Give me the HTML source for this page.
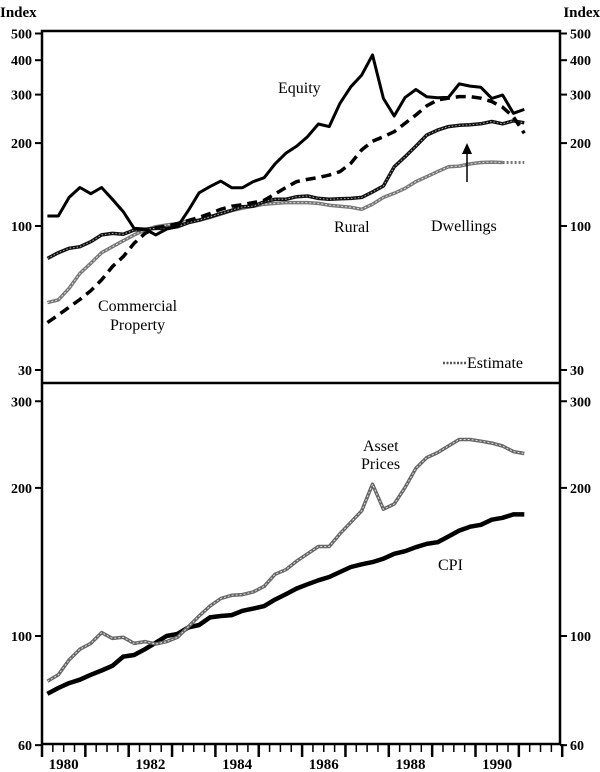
<!DOCTYPE html>
<html><head><meta charset="utf-8"><style>
html,body{margin:0;padding:0;background:#fff;}
svg{display:block;font-family:"Liberation Serif",serif;}
</style></head><body>
<svg id="c" width="600" height="772" viewBox="0 0 600 772">
<g id="axes"></g>
<g id="series"></g>
<g id="labels"></g>
</svg>
<script>
// ---- data (quarterly, 1980Q1 .. 1991Q1) ----
const quarterStart = 1980;
const equity = [108.7,108.7,127,138,131,138,125,112.7,98,97.5,92.8,97.5,99.4,113.7,132,139,145.6,137.8,137.8,144.9,149.8,168,183.6,195,211,234.6,229.5,279,320.6,353,418,290.7,250.8,293,313,294.9,292.4,293,328,322,318.8,290.7,299,256.5,265];
const commercial = [44.6,47.5,50.7,54.1,58.2,63.7,71.2,77.4,86.5,94,98.6,100,102,104.6,107.5,111,115,118,119.5,121.6,124,130.7,138,145,147.7,150,153,157.6,169,189,203,211,220,236,253,273,287,291,295,295,291,283,270,249,217];
const dwellings = [76.3,80,83,84.1,87.7,92.8,94,93.3,96.7,97.3,98,98,99.4,102.8,105,108,111,114,117.5,118,122.5,125,125,127.8,128.5,126,125,125.6,126,127,133,139.7,164,178.5,195,213.8,223,229.5,232,233,235,239.5,235,241,237];
const rural = [52.7,53.9,59.4,67.3,73.2,80,84.1,88.4,92.8,96.7,99.4,100.8,102,104.6,105,107.5,110.5,113.7,116,118,120,120.8,121.6,121.6,121.6,120.8,119,118,116.9,115,120,127,131.4,137,144.9,151,157.6,164,165,168,170,170.6,170];
const ruralEstimate = [170,170,170];
const assetPrices = [80.9,83.4,89.4,94,96.6,101.6,98.9,99.4,96.6,97.4,96.3,97.4,99.4,104.4,109.8,115,119.2,121,121.4,122.9,126.2,133.5,136.4,142,146.9,152,152,161.4,170.3,179.7,203.5,181,185.5,200.5,219.2,230.5,235.9,243.3,250.8,250.8,248.8,246.7,243.3,237,234.9];
const cpi = [76.3,78.4,80.2,81.5,83.4,85.1,87,90.8,91.5,94,96.9,100,101,104.1,105.3,109.1,109.8,110.3,112.5,113.7,115,118.6,121.6,124.9,127.4,129.8,131.8,134.9,138.1,139.9,141.3,143.6,146.9,148.7,151.5,153.9,155.1,159.3,163.8,166.8,168.3,172.3,173.9,176.7,176.7];
const topTicks = [500,400,300,200,100,30];
const bottomTicks = [300,200,100,60];
const yearLabels = [1980,1982,1984,1986,1988,1990];

// ---- scales ----
const X0 = 42, PER_YEAR = 43.35, X1 = 560;
function xq(i){ return X0 + (i + 0.5) * PER_YEAR / 4; }
function xYear(y){ return X0 + (y - quarterStart) * PER_YEAR; }
function yTop(v){ return 226 - Math.log10(v/100) * 275.4; }
function yBot(v){ return 636 - Math.log10(v/100) * 492; }

const NS = "http://www.w3.org/2000/svg";
function mk(tag, attrs, parent){
  const e = document.createElementNS(NS, tag);
  for (const k in attrs) e.setAttribute(k, attrs[k]);
  parent.appendChild(e);
  return e;
}
const axes = document.getElementById('axes');
const ser = document.getElementById('series');
const lab = document.getElementById('labels');

let f = mk('path', {d:`M${X0},31 H${X1} V744 H${X0} Z`, fill:'none', stroke:'#000', 'stroke-width':2.5}, axes);


let dv = mk('line', {x1:X0, x2:X1, y1:383, y2:383, stroke:'#000', 'stroke-width':2.5}, axes);



function yTicks(ticks, yf, panel){
  ticks.forEach(v => {
    const y = yf(v);
    let t = mk('line', {x1:X0-7, x2:X0, y1:y, y2:y, stroke:'#000', 'stroke-width':2}, axes);
    
    
    let t2 = mk('line', {x1:X1, x2:X1+7, y1:y, y2:y, stroke:'#000', 'stroke-width':2}, axes);
    
    
    let l = mk('text', {x:X0-10, y:y+5, 'text-anchor':'end', 'font-size':14, 'font-weight':'bold'}, lab);
    l.textContent = v;
    
    
    let r = mk('text', {x:X1+10, y:y+5, 'text-anchor':'start', 'font-size':14, 'font-weight':'bold'}, lab);
    r.textContent = v;
    
    
  });
}
yTicks(topTicks, yTop, 'top');
yTicks(bottomTicks, yBot, 'bottom');

for (let q = 0; q <= 48; q++){
  const x = X0 + q * PER_YEAR / 4;
  const major = q % 4 === 0;
  let t = mk('line', {x1:x, x2:x, y1:744, y2: major ? 757 : 752, stroke:'#000', 'stroke-width': major ? 2.5 : 1.5}, axes);
  
  
}
yearLabels.forEach(y => {
  let l = mk('text', {x:xYear(y + 0.5), y:769, 'text-anchor':'middle', 'font-size':15, 'font-weight':'bold'}, lab);
  l.textContent = y;
  
  
});

function pathD(arr, yf, off){
  return arr.map((v,i) => (i ? 'L' : 'M') + xq(i + (off||0)).toFixed(1) + ',' + yf(v).toFixed(1)).join(' ');
}
function line(arr, yf, attrs, name, off){
  const a = Object.assign({d:pathD(arr, yf, off), fill:'none', 'stroke-linejoin':'round'}, attrs);
  let p = mk('path', a, ser);
  
  
  return p;
}

line(rural, yTop, {stroke:'#777', 'stroke-width':3.5}, 'rural-line');
line(rural, yTop, {stroke:'#ddd', 'stroke-width':1, 'stroke-dasharray':'2,2'}, 'rural-line-texture');
line(ruralEstimate, yTop, {stroke:'#777', 'stroke-width':3, 'stroke-dasharray':'2,2'}, 'rural-estimate-line', rural.length-1);
line(dwellings, yTop, {stroke:'#111', 'stroke-width':3.5}, 'dwellings-line');
line(dwellings, yTop, {stroke:'#aaa', 'stroke-width':1, 'stroke-dasharray':'1.5,2'}, 'dwellings-line-texture');
line(commercial, yTop, {stroke:'#000', 'stroke-width':3.5, 'stroke-dasharray':'10,6'}, 'commercial-property-line');
line(equity, yTop, {stroke:'#000', 'stroke-width':3}, 'equity-line');

line(cpi, yBot, {stroke:'#000', 'stroke-width':4.5}, 'cpi-line');
line(assetPrices, yBot, {stroke:'#666', 'stroke-width':3.5}, 'asset-prices-line');
line(assetPrices, yBot, {stroke:'#ddd', 'stroke-width':1, 'stroke-dasharray':'2,2'}, 'asset-prices-line-texture');

let ar = mk('line', {x1:467, x2:467, y1:182, y2:152, stroke:'#000', 'stroke-width':1.5}, ser);


let ah = mk('path', {d:'M462,154 L467,143 L472,154 Z', fill:'#000'}, ser);



let es = mk('line', {x1:443, x2:466, y1:363, y2:363, stroke:'#555', 'stroke-width':2.5, 'stroke-dasharray':'2,1.5'}, ser);



const texts = [
  ['Index', 0, 17, 'start', 15, 'left-axis-title', 'bold'],
  ['Index', 600, 17, 'end', 15, 'right-axis-title', 'bold'],
  ['Equity', 278, 93, 'start', 16, 'equity-label', 'normal'],
  ['Dwellings', 431, 231, 'start', 16, 'dwellings-label', 'normal'],
  ['Rural', 334, 232, 'start', 16, 'rural-label', 'normal'],
  ['Commercial', 98, 311, 'start', 16, 'commercial-label-line1', 'normal'],
  ['Property', 110, 330, 'start', 16, 'commercial-label-line2', 'normal'],
  ['Estimate', 467, 368, 'start', 16, 'estimate-legend-label', 'normal'],
  ['Asset', 363, 451, 'start', 16, 'asset-prices-label-line1', 'normal'],
  ['Prices', 361, 469, 'start', 16, 'asset-prices-label-line2', 'normal'],
  ['CPI', 438, 570, 'start', 16, 'cpi-label', 'normal']
];
texts.forEach(t => {
  let e = mk('text', {x:t[1], y:t[2], 'text-anchor':t[3], 'font-size':t[4], 'font-weight':t[6]}, lab);
  e.textContent = t[0];
  
  
});
</script>
</body></html>
